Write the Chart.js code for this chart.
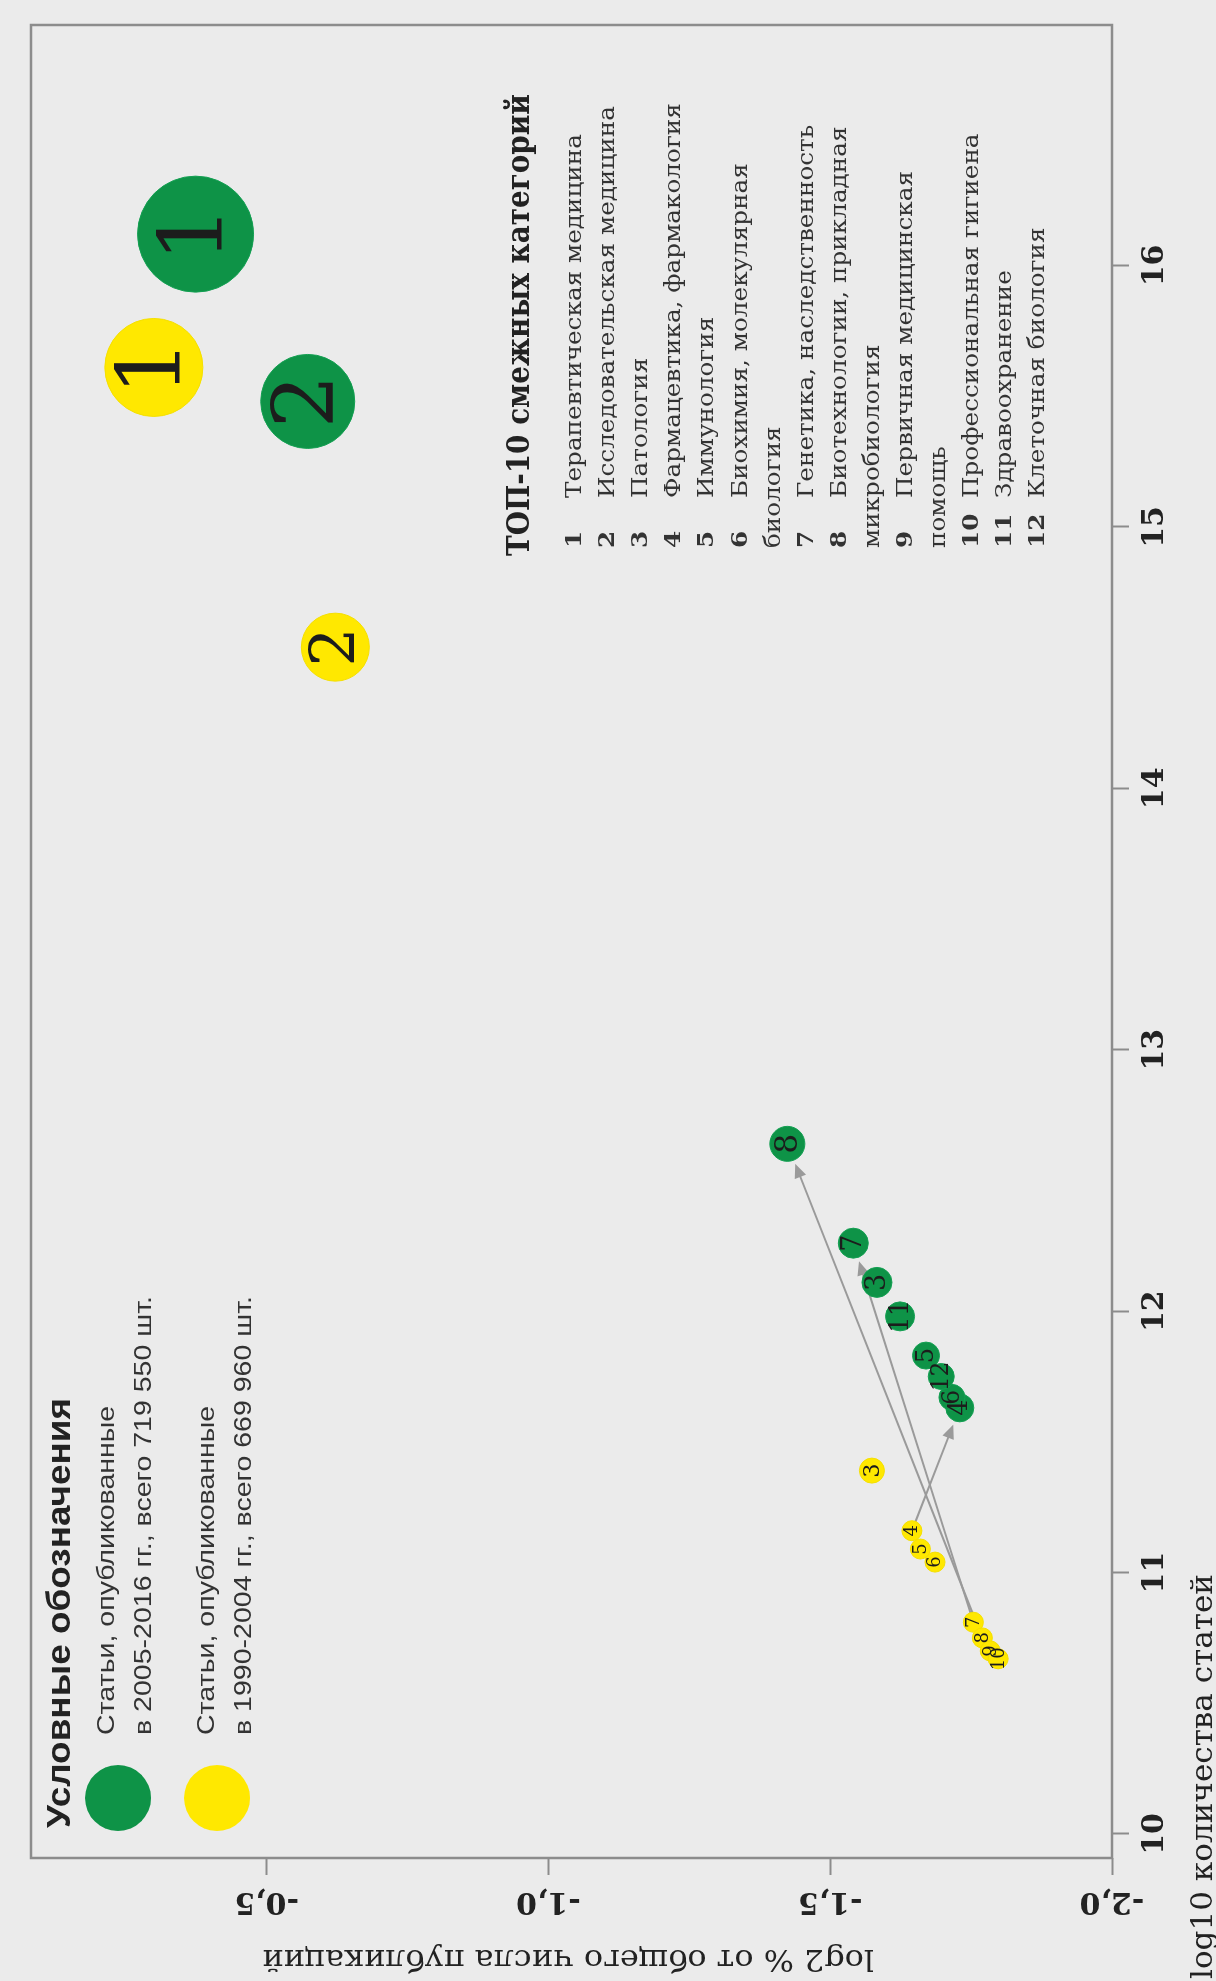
<!DOCTYPE html>
<html lang="ru">
<head>
  <meta charset="UTF-8" />
  <title>Смежные категории</title>
  <script src="https://cdn.jsdelivr.net/npm/chart.js"></script>
  <style>
    html, body { margin: 0; padding: 0; background: #ececec; overflow: hidden; }
    body { width: 1216px; height: 1981px; position: relative; }
    /* the figure is printed turned on its side */
    #wrap {
      position: absolute; left: 0; top: 0;
      width: 1981px; height: 1216px;
      transform-origin: 0 0;
      transform: translate(0, 1981px) rotate(-90deg);
    }
  </style>
</head>
<body>
  <div id="wrap"><canvas id="bubbleChart" width="1981" height="1216"></canvas></div>

  <script>
    // axes
    const xTicks = [10, 11, 12, 13, 14, 15, 16];
    const yTicks = [-2.0, -1.5, -1.0, -0.5];

    // 2005-2016 (green)
    const greenCats  = [1, 2, 3, 4, 5, 6, 7, 8, 11, 12];
    const greenLog10 = [16.12, 15.48, 12.11, 11.63, 11.83, 11.67, 12.26, 12.64, 11.98, 11.75];
    const greenPct   = [-0.374, -0.573, -1.583, -1.730, -1.670, -1.716, -1.541, -1.424, -1.624, -1.697];
    const greenSize  = [58, 47, 15, 14, 13.5, 13, 15, 17.5, 14.5, 13];

    // 1990-2004 (yellow)
    const yellowCats  = [1, 2, 3, 4, 5, 6, 7, 8, 9, 10];
    const yellowLog10 = [15.61, 14.54, 11.39, 11.16, 11.09, 11.04, 10.81, 10.75, 10.70, 10.67];
    const yellowPct   = [-0.300, -0.622, -1.574, -1.645, -1.660, -1.686, -1.754, -1.770, -1.784, -1.798];
    const yellowSize  = [49, 34, 12.5, 10, 10, 10, 10, 10, 10, 10];

    // categories connected by arrows (yellow -> green)
    const arrowCats = [8, 7, 4];

    const categories = [
      ['1', 'Терапевтическая медицина'],
      ['2', 'Исследовательская медицина'],
      ['3', 'Патология'],
      ['4', 'Фармацевтика, фармакология'],
      ['5', 'Иммунология'],
      ['6', 'Биохимия, молекулярная'],
      ['', 'биология'],
      ['7', 'Генетика, наследственность'],
      ['8', 'Биотехнологии, прикладная'],
      ['', 'микробиология'],
      ['9', 'Первичная медицинская'],
      ['', 'помощь'],
      ['10', 'Профессиональная гигиена'],
      ['11', 'Здравоохранение'],
      ['12', 'Клеточная биология']
    ];

    const GREEN = '#0e9347';
    const YELLOW = '#ffe800';
    const GREY = '#8c8c8c';
    const SERIF = '"DejaVu Serif", "Liberation Serif", serif';
    const SANS = '"Liberation Sans", Arial, sans-serif';

    function txt(ctx, s, u, v, font, color, o) {
      o = o || {};
      ctx.save();
      ctx.font = font;
      ctx.fillStyle = color;
      ctx.textAlign = o.align || 'left';
      ctx.textBaseline = 'alphabetic';
      ctx.translate(u, v);
      if (o.rot) ctx.rotate(o.rot);
      if (o.sx) ctx.scale(o.sx, 1);
      ctx.fillText(s, 0, 0);
      ctx.restore();
    }

    function fit(ctx, s, font, w) {
      ctx.save();
      ctx.font = font;
      const m = ctx.measureText(s).width;
      ctx.restore();
      return w / m;
    }

    const decor = {
      id: 'decor',
      beforeDraw(chart) {
        const ctx = chart.ctx;
        ctx.save();
        ctx.fillStyle = '#ebebeb';
        ctx.fillRect(0, 0, chart.width, chart.height);
        ctx.restore();
      },
      beforeDatasetsDraw(chart) {
        const ctx = chart.ctx, xs = chart.scales.x, ys = chart.scales.y;
        ctx.save();
        ctx.strokeStyle = '#9a9a9a';
        ctx.fillStyle = '#9a9a9a';
        ctx.lineWidth = 2;
        arrowCats.forEach(c => {
          const yi = yellowCats.indexOf(c), gi = greenCats.indexOf(c);
          const x0 = xs.getPixelForValue(yellowLog10[yi]), y0 = ys.getPixelForValue(yellowPct[yi]);
          const x1 = xs.getPixelForValue(greenLog10[gi]), y1 = ys.getPixelForValue(greenPct[gi]);
          const d = Math.hypot(x1 - x0, y1 - y0), ux = (x1 - x0) / d, uy = (y1 - y0) / d;
          const ex = x1 - ux * (greenSize[gi] + 4), ey = y1 - uy * (greenSize[gi] + 4);
          ctx.beginPath();
          ctx.moveTo(x0 + ux * yellowSize[yi] * 0.5, y0 + uy * yellowSize[yi] * 0.5);
          ctx.lineTo(ex - ux * 10, ey - uy * 10);
          ctx.stroke();
          ctx.beginPath();
          ctx.moveTo(ex, ey);
          ctx.lineTo(ex - ux * 14 - uy * 6, ey - uy * 14 + ux * 6);
          ctx.lineTo(ex - ux * 14 + uy * 6, ey - uy * 14 - ux * 6);
          ctx.closePath();
          ctx.fill();
        });
        ctx.restore();
      },
      afterDatasetsDraw(chart) {
        const ctx = chart.ctx;
        [[0, yellowCats, yellowSize], [1, greenCats, greenSize]].forEach(([di, cats, size]) => {
          chart.getDatasetMeta(di).data.forEach((el, i) => {
            const fs = Math.min(88, size[i] * 1.8);
            ctx.save();
            ctx.font = fs + 'px ' + SERIF;
            ctx.fillStyle = '#1c1c1c';
            ctx.textAlign = 'center';
            ctx.textBaseline = 'middle';
            ctx.fillText(String(cats[i]), el.x, el.y + fs * 0.04);
            ctx.restore();
          });
        });
      },
      afterDraw(chart) {
        const ctx = chart.ctx, a = chart.chartArea, ys = chart.scales.y;
        // plot frame
        ctx.save();
        ctx.strokeStyle = GREY;
        ctx.lineWidth = 2.5;
        ctx.strokeRect(a.left, a.top, a.right - a.left, a.bottom - a.top);
        ctx.restore();

        // y tick labels, parallel to the axis
        yTicks.forEach(t => {
          const s = t.toFixed(1).replace('.', ',');
          txt(ctx, s, 88, ys.getPixelForValue(t), 'bold 30px ' + SERIF, '#222', { rot: -Math.PI / 2, align: 'center' });
        });

        // axis titles
        const yt = 'log2 % от общего числа публикаций';
        const ytf = '30px ' + SERIF;
        txt(ctx, yt, 31, 568, ytf, '#222', { rot: -Math.PI / 2, align: 'center', sx: fit(ctx, yt, ytf, 612) });
        const xt = 'log10 количества статей';
        const xtf = '30px ' + SERIF;
        txt(ctx, xt, 2, 1212, xtf, '#222', { sx: fit(ctx, xt, xtf, 405) });

        // legend
        const lt = 'Условные обозначения', ltf = 'bold 34px ' + SANS;
        txt(ctx, lt, 153, 70, ltf, '#222', { sx: fit(ctx, lt, ltf, 430) });
        [[GREEN, 118], [YELLOW, 217]].forEach(([c, v]) => {
          ctx.save();
          ctx.fillStyle = c;
          ctx.beginPath();
          ctx.arc(183, v, 33, 0, Math.PI * 2);
          ctx.fill();
          ctx.restore();
        });
        const lf = '24px ' + SANS;
        const l2 = 'в 2005-2016 гг., всего 719 550 шт.';
        const lsx = fit(ctx, l2, lf, 439);
        txt(ctx, 'Статьи, опубликованные', 246, 114, lf, '#333', { sx: lsx });
        txt(ctx, l2, 246, 151, lf, '#333', { sx: lsx });
        txt(ctx, 'Статьи, опубликованные', 246, 214, lf, '#333', { sx: lsx });
        txt(ctx, 'в 1990-2004 гг., всего 669 960 шт.', 246, 251, lf, '#333', { sx: lsx });

        // category list
        const ct = 'ТОП-10 смежных категорий', ctf = 'bold 31px ' + SERIF;
        txt(ctx, ct, 1425, 529, ctf, '#222', { sx: fit(ctx, ct, ctf, 462) });
        const rf = '23px ' + SERIF, nf = 'bold 23px ' + SERIF;
        const rsx = fit(ctx, categories[0][1], rf, 364);
        categories.forEach(([n, s], i) => {
          const v = 581 + 33.1 * i;
          if (n) {
            txt(ctx, n, 1433, v, nf, '#333', { sx: rsx });
            txt(ctx, s, 1483, v, rf, '#333', { sx: rsx });
          } else {
            txt(ctx, s, 1433, v, rf, '#333', { sx: rsx });
          }
        });
      }
    };

    const ctx = document.getElementById('bubbleChart');
    new Chart(ctx, {
      type: 'bubble',
      data: {
        datasets: [
          {
            label: 'Статьи 1990-2004',
            data: yellowCats.map((c, i) => ({ x: yellowLog10[i], y: yellowPct[i], r: yellowSize[i] })),
            backgroundColor: YELLOW,
            borderColor: '#f5e000',
            borderWidth: 1
          },
          {
            label: 'Статьи 2005-2016',
            data: greenCats.map((c, i) => ({ x: greenLog10[i], y: greenPct[i], r: greenSize[i] })),
            backgroundColor: GREEN,
            borderColor: '#13a052',
            borderWidth: 1
          }
        ]
      },
      options: {
        responsive: false,
        animation: false,
        devicePixelRatio: 1,
        events: [],
        layout: { autoPadding: false, padding: { left: 0, right: 25, top: 31, bottom: 0 } },
        plugins: { legend: { display: false }, tooltip: { enabled: false } },
        scales: {
          x: {
            type: 'linear',
            position: 'bottom',
            min: 9.908,
            max: 16.92,
            afterBuildTicks: s => { s.ticks = xTicks.map(v => ({ value: v })); },
            afterFit: s => { s.height = 104; },
            border: { display: false },
            grid: { drawOnChartArea: false, drawTicks: true, tickLength: 17, tickColor: GREY, tickWidth: 2 },
            ticks: {
              padding: 8,
              maxRotation: 0,
              color: '#222',
              font: { family: SERIF, size: 30, weight: 'bold' }
            }
          },
          y: {
            type: 'linear',
            position: 'left',
            min: -2.0,
            max: -0.082,
            afterBuildTicks: s => { s.ticks = yTicks.map(v => ({ value: v })); },
            afterFit: s => { s.width = 123; },
            border: { display: false },
            grid: { drawOnChartArea: false, drawTicks: true, tickLength: 17, tickColor: GREY, tickWidth: 2 },
            ticks: { display: false }
          }
        }
      },
      plugins: [decor]
    });
  </script>
</body>
</html>
